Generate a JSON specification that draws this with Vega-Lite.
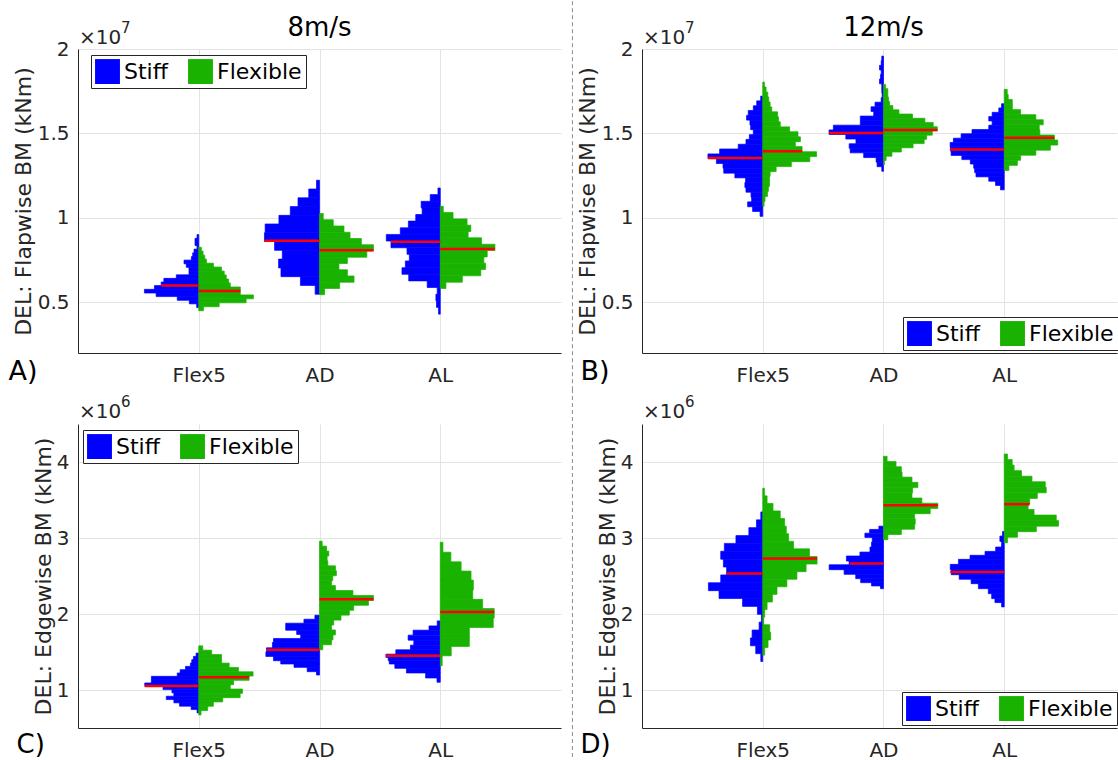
{
"$schema":"https://vega.github.io/schema/vega-lite/v6.json",
"padding":{"left":8,"top":0,"right":0,"bottom":0},
"bounds":"flush",
"columns":2,
"spacing":{"row":71,"column":81},
"resolve":{"scale":{"x":"independent","y":"independent"},"legend":{"color":"independent"}},
"config":{
 "font":"DejaVu Sans",
 "view":{"stroke":null},
 "axis":{"labelFont":"DejaVu Sans","labelFontSize":20,"labelColor":"#262626","titleFont":"DejaVu Sans","titleFontSize":22,"titleFontWeight":"normal","titleColor":"#262626","domainColor":"#262626","domainWidth":1,"gridColor":"#e3e3e3","gridWidth":1,"ticks":false},
 "legend":{"labelFont":"DejaVu Sans","labelFontSize":22,"labelColor":"#000000","symbolType":"square","symbolSize":620,"symbolStrokeWidth":0,"strokeColor":"#262626","fillColor":"#ffffff","padding":4,"columnPadding":20,"labelOffset":4,"direction":"horizontal","labelLimit":300}
},
"datasets":{
"hist":[
{"p":"A","c":1,"s":"Stiff","y0":0.879,"y1":0.901,"w":0.014},
{"p":"A","c":1,"s":"Stiff","y0":0.858,"y1":0.879,"w":0.031},
{"p":"A","c":1,"s":"Stiff","y0":0.836,"y1":0.858,"w":0.031},
{"p":"A","c":1,"s":"Stiff","y0":0.815,"y1":0.836,"w":0.014},
{"p":"A","c":1,"s":"Stiff","y0":0.793,"y1":0.815,"w":0.039},
{"p":"A","c":1,"s":"Stiff","y0":0.771,"y1":0.793,"w":0.05},
{"p":"A","c":1,"s":"Stiff","y0":0.75,"y1":0.771,"w":0.061},
{"p":"A","c":1,"s":"Stiff","y0":0.728,"y1":0.75,"w":0.122},
{"p":"A","c":1,"s":"Stiff","y0":0.707,"y1":0.728,"w":0.103},
{"p":"A","c":1,"s":"Stiff","y0":0.685,"y1":0.707,"w":0.081},
{"p":"A","c":1,"s":"Stiff","y0":0.663,"y1":0.685,"w":0.081},
{"p":"A","c":1,"s":"Stiff","y0":0.642,"y1":0.663,"w":0.186},
{"p":"A","c":1,"s":"Stiff","y0":0.62,"y1":0.642,"w":0.289},
{"p":"A","c":1,"s":"Stiff","y0":0.599,"y1":0.62,"w":0.311},
{"p":"A","c":1,"s":"Stiff","y0":0.577,"y1":0.599,"w":0.367},
{"p":"A","c":1,"s":"Stiff","y0":0.555,"y1":0.577,"w":0.45},
{"p":"A","c":1,"s":"Stiff","y0":0.534,"y1":0.555,"w":0.353},
{"p":"A","c":1,"s":"Stiff","y0":0.512,"y1":0.534,"w":0.178},
{"p":"A","c":1,"s":"Stiff","y0":0.491,"y1":0.512,"w":0.078},
{"p":"A","c":1,"s":"Stiff","y0":0.469,"y1":0.491,"w":0.017},
{"p":"A","c":1,"s":"Flexible","y0":0.803,"y1":0.826,"w":0.022},
{"p":"A","c":1,"s":"Flexible","y0":0.779,"y1":0.803,"w":0.036},
{"p":"A","c":1,"s":"Flexible","y0":0.756,"y1":0.779,"w":0.05},
{"p":"A","c":1,"s":"Flexible","y0":0.732,"y1":0.756,"w":0.064},
{"p":"A","c":1,"s":"Flexible","y0":0.709,"y1":0.732,"w":0.122},
{"p":"A","c":1,"s":"Flexible","y0":0.685,"y1":0.709,"w":0.189},
{"p":"A","c":1,"s":"Flexible","y0":0.662,"y1":0.685,"w":0.211},
{"p":"A","c":1,"s":"Flexible","y0":0.638,"y1":0.662,"w":0.228},
{"p":"A","c":1,"s":"Flexible","y0":0.615,"y1":0.638,"w":0.247},
{"p":"A","c":1,"s":"Flexible","y0":0.591,"y1":0.615,"w":0.261},
{"p":"A","c":1,"s":"Flexible","y0":0.568,"y1":0.591,"w":0.344},
{"p":"A","c":1,"s":"Flexible","y0":0.544,"y1":0.568,"w":0.344},
{"p":"A","c":1,"s":"Flexible","y0":0.521,"y1":0.544,"w":0.453},
{"p":"A","c":1,"s":"Flexible","y0":0.497,"y1":0.521,"w":0.392},
{"p":"A","c":1,"s":"Flexible","y0":0.474,"y1":0.497,"w":0.169},
{"p":"A","c":1,"s":"Flexible","y0":0.45,"y1":0.474,"w":0.039},
{"p":"A","c":2,"s":"Stiff","y0":1.171,"y1":1.223,"w":0.025},
{"p":"A","c":2,"s":"Stiff","y0":1.119,"y1":1.171,"w":0.089},
{"p":"A","c":2,"s":"Stiff","y0":1.067,"y1":1.119,"w":0.178},
{"p":"A","c":2,"s":"Stiff","y0":1.015,"y1":1.067,"w":0.242},
{"p":"A","c":2,"s":"Stiff","y0":0.964,"y1":1.015,"w":0.336},
{"p":"A","c":2,"s":"Stiff","y0":0.912,"y1":0.964,"w":0.45},
{"p":"A","c":2,"s":"Stiff","y0":0.86,"y1":0.912,"w":0.456},
{"p":"A","c":2,"s":"Stiff","y0":0.808,"y1":0.86,"w":0.372},
{"p":"A","c":2,"s":"Stiff","y0":0.756,"y1":0.808,"w":0.308},
{"p":"A","c":2,"s":"Stiff","y0":0.704,"y1":0.756,"w":0.339},
{"p":"A","c":2,"s":"Stiff","y0":0.652,"y1":0.704,"w":0.319},
{"p":"A","c":2,"s":"Stiff","y0":0.6,"y1":0.652,"w":0.158},
{"p":"A","c":2,"s":"Stiff","y0":0.548,"y1":0.6,"w":0.036},
{"p":"A","c":2,"s":"Flexible","y0":0.989,"y1":1.026,"w":0.031},
{"p":"A","c":2,"s":"Flexible","y0":0.952,"y1":0.989,"w":0.114},
{"p":"A","c":2,"s":"Flexible","y0":0.915,"y1":0.952,"w":0.203},
{"p":"A","c":2,"s":"Flexible","y0":0.878,"y1":0.915,"w":0.253},
{"p":"A","c":2,"s":"Flexible","y0":0.841,"y1":0.878,"w":0.347},
{"p":"A","c":2,"s":"Flexible","y0":0.804,"y1":0.841,"w":0.447},
{"p":"A","c":2,"s":"Flexible","y0":0.767,"y1":0.804,"w":0.392},
{"p":"A","c":2,"s":"Flexible","y0":0.73,"y1":0.767,"w":0.231},
{"p":"A","c":2,"s":"Flexible","y0":0.693,"y1":0.73,"w":0.161},
{"p":"A","c":2,"s":"Flexible","y0":0.656,"y1":0.693,"w":0.231},
{"p":"A","c":2,"s":"Flexible","y0":0.619,"y1":0.656,"w":0.286},
{"p":"A","c":2,"s":"Flexible","y0":0.582,"y1":0.619,"w":0.167},
{"p":"A","c":2,"s":"Flexible","y0":0.545,"y1":0.582,"w":0.042},
{"p":"A","c":3,"s":"Stiff","y0":1.138,"y1":1.177,"w":0.019},
{"p":"A","c":3,"s":"Stiff","y0":1.098,"y1":1.138,"w":0.083},
{"p":"A","c":3,"s":"Stiff","y0":1.059,"y1":1.098,"w":0.158},
{"p":"A","c":3,"s":"Stiff","y0":1.02,"y1":1.059,"w":0.15},
{"p":"A","c":3,"s":"Stiff","y0":0.981,"y1":1.02,"w":0.203},
{"p":"A","c":3,"s":"Stiff","y0":0.941,"y1":0.981,"w":0.264},
{"p":"A","c":3,"s":"Stiff","y0":0.902,"y1":0.941,"w":0.331},
{"p":"A","c":3,"s":"Stiff","y0":0.863,"y1":0.902,"w":0.447},
{"p":"A","c":3,"s":"Stiff","y0":0.823,"y1":0.863,"w":0.408},
{"p":"A","c":3,"s":"Stiff","y0":0.784,"y1":0.823,"w":0.275},
{"p":"A","c":3,"s":"Stiff","y0":0.745,"y1":0.784,"w":0.256},
{"p":"A","c":3,"s":"Stiff","y0":0.705,"y1":0.745,"w":0.289},
{"p":"A","c":3,"s":"Stiff","y0":0.666,"y1":0.705,"w":0.317},
{"p":"A","c":3,"s":"Stiff","y0":0.627,"y1":0.666,"w":0.261},
{"p":"A","c":3,"s":"Stiff","y0":0.588,"y1":0.627,"w":0.108},
{"p":"A","c":3,"s":"Stiff","y0":0.548,"y1":0.588,"w":0.025},
{"p":"A","c":3,"s":"Stiff","y0":0.509,"y1":0.548,"w":0.036},
{"p":"A","c":3,"s":"Stiff","y0":0.47,"y1":0.509,"w":0.031},
{"p":"A","c":3,"s":"Stiff","y0":0.43,"y1":0.47,"w":0.014},
{"p":"A","c":3,"s":"Flexible","y0":1.032,"y1":1.069,"w":0.025},
{"p":"A","c":3,"s":"Flexible","y0":0.994,"y1":1.032,"w":0.106},
{"p":"A","c":3,"s":"Flexible","y0":0.957,"y1":0.994,"w":0.222},
{"p":"A","c":3,"s":"Flexible","y0":0.919,"y1":0.957,"w":0.253},
{"p":"A","c":3,"s":"Flexible","y0":0.882,"y1":0.919,"w":0.231},
{"p":"A","c":3,"s":"Flexible","y0":0.844,"y1":0.882,"w":0.342},
{"p":"A","c":3,"s":"Flexible","y0":0.807,"y1":0.844,"w":0.453},
{"p":"A","c":3,"s":"Flexible","y0":0.769,"y1":0.807,"w":0.389},
{"p":"A","c":3,"s":"Flexible","y0":0.732,"y1":0.769,"w":0.361},
{"p":"A","c":3,"s":"Flexible","y0":0.694,"y1":0.732,"w":0.375},
{"p":"A","c":3,"s":"Flexible","y0":0.657,"y1":0.694,"w":0.336},
{"p":"A","c":3,"s":"Flexible","y0":0.619,"y1":0.657,"w":0.183},
{"p":"A","c":3,"s":"Flexible","y0":0.582,"y1":0.619,"w":0.047},
{"p":"B","c":1,"s":"Stiff","y0":1.693,"y1":1.721,"w":0.017},
{"p":"B","c":1,"s":"Stiff","y0":1.664,"y1":1.693,"w":0.05},
{"p":"B","c":1,"s":"Stiff","y0":1.636,"y1":1.664,"w":0.078},
{"p":"B","c":1,"s":"Stiff","y0":1.607,"y1":1.636,"w":0.12},
{"p":"B","c":1,"s":"Stiff","y0":1.579,"y1":1.607,"w":0.134},
{"p":"B","c":1,"s":"Stiff","y0":1.55,"y1":1.579,"w":0.106},
{"p":"B","c":1,"s":"Stiff","y0":1.522,"y1":1.55,"w":0.1},
{"p":"B","c":1,"s":"Stiff","y0":1.493,"y1":1.522,"w":0.078},
{"p":"B","c":1,"s":"Stiff","y0":1.465,"y1":1.493,"w":0.111},
{"p":"B","c":1,"s":"Stiff","y0":1.436,"y1":1.465,"w":0.139},
{"p":"B","c":1,"s":"Stiff","y0":1.408,"y1":1.436,"w":0.203},
{"p":"B","c":1,"s":"Stiff","y0":1.379,"y1":1.408,"w":0.357},
{"p":"B","c":1,"s":"Stiff","y0":1.351,"y1":1.379,"w":0.454},
{"p":"B","c":1,"s":"Stiff","y0":1.322,"y1":1.351,"w":0.384},
{"p":"B","c":1,"s":"Stiff","y0":1.294,"y1":1.322,"w":0.329},
{"p":"B","c":1,"s":"Stiff","y0":1.265,"y1":1.294,"w":0.323},
{"p":"B","c":1,"s":"Stiff","y0":1.237,"y1":1.265,"w":0.231},
{"p":"B","c":1,"s":"Stiff","y0":1.209,"y1":1.237,"w":0.142},
{"p":"B","c":1,"s":"Stiff","y0":1.18,"y1":1.209,"w":0.148},
{"p":"B","c":1,"s":"Stiff","y0":1.152,"y1":1.18,"w":0.139},
{"p":"B","c":1,"s":"Stiff","y0":1.123,"y1":1.152,"w":0.097},
{"p":"B","c":1,"s":"Stiff","y0":1.095,"y1":1.123,"w":0.092},
{"p":"B","c":1,"s":"Stiff","y0":1.066,"y1":1.095,"w":0.125},
{"p":"B","c":1,"s":"Stiff","y0":1.038,"y1":1.066,"w":0.084},
{"p":"B","c":1,"s":"Stiff","y0":1.009,"y1":1.038,"w":0.022},
{"p":"B","c":1,"s":"Flexible","y0":1.775,"y1":1.804,"w":0.014},
{"p":"B","c":1,"s":"Flexible","y0":1.745,"y1":1.775,"w":0.028},
{"p":"B","c":1,"s":"Flexible","y0":1.716,"y1":1.745,"w":0.042},
{"p":"B","c":1,"s":"Flexible","y0":1.686,"y1":1.716,"w":0.05},
{"p":"B","c":1,"s":"Flexible","y0":1.657,"y1":1.686,"w":0.061},
{"p":"B","c":1,"s":"Flexible","y0":1.628,"y1":1.657,"w":0.075},
{"p":"B","c":1,"s":"Flexible","y0":1.598,"y1":1.628,"w":0.123},
{"p":"B","c":1,"s":"Flexible","y0":1.569,"y1":1.598,"w":0.131},
{"p":"B","c":1,"s":"Flexible","y0":1.539,"y1":1.569,"w":0.145},
{"p":"B","c":1,"s":"Flexible","y0":1.51,"y1":1.539,"w":0.223},
{"p":"B","c":1,"s":"Flexible","y0":1.48,"y1":1.51,"w":0.292},
{"p":"B","c":1,"s":"Flexible","y0":1.451,"y1":1.48,"w":0.312},
{"p":"B","c":1,"s":"Flexible","y0":1.422,"y1":1.451,"w":0.27},
{"p":"B","c":1,"s":"Flexible","y0":1.392,"y1":1.422,"w":0.326},
{"p":"B","c":1,"s":"Flexible","y0":1.363,"y1":1.392,"w":0.446},
{"p":"B","c":1,"s":"Flexible","y0":1.333,"y1":1.363,"w":0.39},
{"p":"B","c":1,"s":"Flexible","y0":1.304,"y1":1.333,"w":0.237},
{"p":"B","c":1,"s":"Flexible","y0":1.274,"y1":1.304,"w":0.111},
{"p":"B","c":1,"s":"Flexible","y0":1.245,"y1":1.274,"w":0.061},
{"p":"B","c":1,"s":"Flexible","y0":1.216,"y1":1.245,"w":0.056},
{"p":"B","c":1,"s":"Flexible","y0":1.186,"y1":1.216,"w":0.056},
{"p":"B","c":1,"s":"Flexible","y0":1.157,"y1":1.186,"w":0.047},
{"p":"B","c":1,"s":"Flexible","y0":1.127,"y1":1.157,"w":0.039},
{"p":"B","c":1,"s":"Flexible","y0":1.098,"y1":1.127,"w":0.019},
{"p":"B","c":1,"s":"Flexible","y0":1.069,"y1":1.098,"w":0.011},
{"p":"B","c":2,"s":"Stiff","y0":1.931,"y1":1.958,"w":0.014},
{"p":"B","c":2,"s":"Stiff","y0":1.903,"y1":1.931,"w":0.019},
{"p":"B","c":2,"s":"Stiff","y0":1.876,"y1":1.903,"w":0.033},
{"p":"B","c":2,"s":"Stiff","y0":1.849,"y1":1.876,"w":0.019},
{"p":"B","c":2,"s":"Stiff","y0":1.822,"y1":1.849,"w":0.025},
{"p":"B","c":2,"s":"Stiff","y0":1.794,"y1":1.822,"w":0.033},
{"p":"B","c":2,"s":"Stiff","y0":1.767,"y1":1.794,"w":0.014},
{"p":"B","c":2,"s":"Stiff","y0":1.74,"y1":1.767,"w":0.014},
{"p":"B","c":2,"s":"Stiff","y0":1.712,"y1":1.74,"w":0.011},
{"p":"B","c":2,"s":"Stiff","y0":1.685,"y1":1.712,"w":0.019},
{"p":"B","c":2,"s":"Stiff","y0":1.658,"y1":1.685,"w":0.07},
{"p":"B","c":2,"s":"Stiff","y0":1.63,"y1":1.658,"w":0.103},
{"p":"B","c":2,"s":"Stiff","y0":1.603,"y1":1.63,"w":0.081},
{"p":"B","c":2,"s":"Stiff","y0":1.576,"y1":1.603,"w":0.192},
{"p":"B","c":2,"s":"Stiff","y0":1.549,"y1":1.576,"w":0.192},
{"p":"B","c":2,"s":"Stiff","y0":1.521,"y1":1.549,"w":0.415},
{"p":"B","c":2,"s":"Stiff","y0":1.494,"y1":1.521,"w":0.451},
{"p":"B","c":2,"s":"Stiff","y0":1.467,"y1":1.494,"w":0.312},
{"p":"B","c":2,"s":"Stiff","y0":1.439,"y1":1.467,"w":0.228},
{"p":"B","c":2,"s":"Stiff","y0":1.412,"y1":1.439,"w":0.284},
{"p":"B","c":2,"s":"Stiff","y0":1.385,"y1":1.412,"w":0.276},
{"p":"B","c":2,"s":"Stiff","y0":1.357,"y1":1.385,"w":0.164},
{"p":"B","c":2,"s":"Stiff","y0":1.33,"y1":1.357,"w":0.061},
{"p":"B","c":2,"s":"Stiff","y0":1.303,"y1":1.33,"w":0.053},
{"p":"B","c":2,"s":"Stiff","y0":1.276,"y1":1.303,"w":0.014},
{"p":"B","c":2,"s":"Flexible","y0":1.765,"y1":1.79,"w":0.017},
{"p":"B","c":2,"s":"Flexible","y0":1.74,"y1":1.765,"w":0.036},
{"p":"B","c":2,"s":"Flexible","y0":1.715,"y1":1.74,"w":0.036},
{"p":"B","c":2,"s":"Flexible","y0":1.69,"y1":1.715,"w":0.042},
{"p":"B","c":2,"s":"Flexible","y0":1.665,"y1":1.69,"w":0.05},
{"p":"B","c":2,"s":"Flexible","y0":1.64,"y1":1.665,"w":0.078},
{"p":"B","c":2,"s":"Flexible","y0":1.615,"y1":1.64,"w":0.128},
{"p":"B","c":2,"s":"Flexible","y0":1.59,"y1":1.615,"w":0.24},
{"p":"B","c":2,"s":"Flexible","y0":1.565,"y1":1.59,"w":0.343},
{"p":"B","c":2,"s":"Flexible","y0":1.54,"y1":1.565,"w":0.412},
{"p":"B","c":2,"s":"Flexible","y0":1.515,"y1":1.54,"w":0.446},
{"p":"B","c":2,"s":"Flexible","y0":1.49,"y1":1.515,"w":0.404},
{"p":"B","c":2,"s":"Flexible","y0":1.465,"y1":1.49,"w":0.357},
{"p":"B","c":2,"s":"Flexible","y0":1.44,"y1":1.465,"w":0.337},
{"p":"B","c":2,"s":"Flexible","y0":1.415,"y1":1.44,"w":0.245},
{"p":"B","c":2,"s":"Flexible","y0":1.39,"y1":1.415,"w":0.148},
{"p":"B","c":2,"s":"Flexible","y0":1.365,"y1":1.39,"w":0.07},
{"p":"B","c":2,"s":"Flexible","y0":1.34,"y1":1.365,"w":0.022},
{"p":"B","c":2,"s":"Flexible","y0":1.315,"y1":1.34,"w":0.008},
{"p":"B","c":3,"s":"Stiff","y0":1.651,"y1":1.676,"w":0.022},
{"p":"B","c":3,"s":"Stiff","y0":1.625,"y1":1.651,"w":0.045},
{"p":"B","c":3,"s":"Stiff","y0":1.6,"y1":1.625,"w":0.1},
{"p":"B","c":3,"s":"Stiff","y0":1.574,"y1":1.6,"w":0.128},
{"p":"B","c":3,"s":"Stiff","y0":1.549,"y1":1.574,"w":0.1},
{"p":"B","c":3,"s":"Stiff","y0":1.523,"y1":1.549,"w":0.128},
{"p":"B","c":3,"s":"Stiff","y0":1.498,"y1":1.523,"w":0.267},
{"p":"B","c":3,"s":"Stiff","y0":1.472,"y1":1.498,"w":0.357},
{"p":"B","c":3,"s":"Stiff","y0":1.447,"y1":1.472,"w":0.421},
{"p":"B","c":3,"s":"Stiff","y0":1.421,"y1":1.447,"w":0.448},
{"p":"B","c":3,"s":"Stiff","y0":1.396,"y1":1.421,"w":0.446},
{"p":"B","c":3,"s":"Stiff","y0":1.37,"y1":1.396,"w":0.44},
{"p":"B","c":3,"s":"Stiff","y0":1.345,"y1":1.37,"w":0.351},
{"p":"B","c":3,"s":"Stiff","y0":1.319,"y1":1.345,"w":0.281},
{"p":"B","c":3,"s":"Stiff","y0":1.294,"y1":1.319,"w":0.253},
{"p":"B","c":3,"s":"Stiff","y0":1.268,"y1":1.294,"w":0.245},
{"p":"B","c":3,"s":"Stiff","y0":1.243,"y1":1.268,"w":0.234},
{"p":"B","c":3,"s":"Stiff","y0":1.217,"y1":1.243,"w":0.128},
{"p":"B","c":3,"s":"Stiff","y0":1.192,"y1":1.217,"w":0.072},
{"p":"B","c":3,"s":"Stiff","y0":1.166,"y1":1.192,"w":0.031},
{"p":"B","c":3,"s":"Flexible","y0":1.731,"y1":1.761,"w":0.025},
{"p":"B","c":3,"s":"Flexible","y0":1.701,"y1":1.731,"w":0.033},
{"p":"B","c":3,"s":"Flexible","y0":1.671,"y1":1.701,"w":0.067},
{"p":"B","c":3,"s":"Flexible","y0":1.641,"y1":1.671,"w":0.067},
{"p":"B","c":3,"s":"Flexible","y0":1.611,"y1":1.641,"w":0.136},
{"p":"B","c":3,"s":"Flexible","y0":1.581,"y1":1.611,"w":0.262},
{"p":"B","c":3,"s":"Flexible","y0":1.551,"y1":1.581,"w":0.323},
{"p":"B","c":3,"s":"Flexible","y0":1.521,"y1":1.551,"w":0.29},
{"p":"B","c":3,"s":"Flexible","y0":1.491,"y1":1.521,"w":0.295},
{"p":"B","c":3,"s":"Flexible","y0":1.461,"y1":1.491,"w":0.415},
{"p":"B","c":3,"s":"Flexible","y0":1.431,"y1":1.461,"w":0.443},
{"p":"B","c":3,"s":"Flexible","y0":1.401,"y1":1.431,"w":0.382},
{"p":"B","c":3,"s":"Flexible","y0":1.371,"y1":1.401,"w":0.262},
{"p":"B","c":3,"s":"Flexible","y0":1.341,"y1":1.371,"w":0.136},
{"p":"B","c":3,"s":"Flexible","y0":1.311,"y1":1.341,"w":0.109},
{"p":"B","c":3,"s":"Flexible","y0":1.281,"y1":1.311,"w":0.039},
{"p":"C","c":1,"s":"Stiff","y0":1.442,"y1":1.486,"w":0.022},
{"p":"C","c":1,"s":"Stiff","y0":1.399,"y1":1.442,"w":0.044},
{"p":"C","c":1,"s":"Stiff","y0":1.355,"y1":1.399,"w":0.058},
{"p":"C","c":1,"s":"Stiff","y0":1.311,"y1":1.355,"w":0.069},
{"p":"C","c":1,"s":"Stiff","y0":1.268,"y1":1.311,"w":0.11},
{"p":"C","c":1,"s":"Stiff","y0":1.224,"y1":1.268,"w":0.154},
{"p":"C","c":1,"s":"Stiff","y0":1.18,"y1":1.224,"w":0.178},
{"p":"C","c":1,"s":"Stiff","y0":1.136,"y1":1.18,"w":0.392},
{"p":"C","c":1,"s":"Stiff","y0":1.093,"y1":1.136,"w":0.392},
{"p":"C","c":1,"s":"Stiff","y0":1.049,"y1":1.093,"w":0.447},
{"p":"C","c":1,"s":"Stiff","y0":1.005,"y1":1.049,"w":0.296},
{"p":"C","c":1,"s":"Stiff","y0":0.962,"y1":1.005,"w":0.222},
{"p":"C","c":1,"s":"Stiff","y0":0.918,"y1":0.962,"w":0.206},
{"p":"C","c":1,"s":"Stiff","y0":0.874,"y1":0.918,"w":0.269},
{"p":"C","c":1,"s":"Stiff","y0":0.831,"y1":0.874,"w":0.206},
{"p":"C","c":1,"s":"Stiff","y0":0.787,"y1":0.831,"w":0.159},
{"p":"C","c":1,"s":"Stiff","y0":0.743,"y1":0.787,"w":0.063},
{"p":"C","c":1,"s":"Stiff","y0":0.699,"y1":0.743,"w":0.014},
{"p":"C","c":1,"s":"Flexible","y0":1.524,"y1":1.581,"w":0.033},
{"p":"C","c":1,"s":"Flexible","y0":1.467,"y1":1.524,"w":0.107},
{"p":"C","c":1,"s":"Flexible","y0":1.411,"y1":1.467,"w":0.189},
{"p":"C","c":1,"s":"Flexible","y0":1.354,"y1":1.411,"w":0.189},
{"p":"C","c":1,"s":"Flexible","y0":1.297,"y1":1.354,"w":0.252},
{"p":"C","c":1,"s":"Flexible","y0":1.24,"y1":1.297,"w":0.329},
{"p":"C","c":1,"s":"Flexible","y0":1.183,"y1":1.24,"w":0.45},
{"p":"C","c":1,"s":"Flexible","y0":1.127,"y1":1.183,"w":0.417},
{"p":"C","c":1,"s":"Flexible","y0":1.07,"y1":1.127,"w":0.288},
{"p":"C","c":1,"s":"Flexible","y0":1.013,"y1":1.07,"w":0.261},
{"p":"C","c":1,"s":"Flexible","y0":0.956,"y1":1.013,"w":0.362},
{"p":"C","c":1,"s":"Flexible","y0":0.899,"y1":0.956,"w":0.343},
{"p":"C","c":1,"s":"Flexible","y0":0.843,"y1":0.899,"w":0.198},
{"p":"C","c":1,"s":"Flexible","y0":0.786,"y1":0.843,"w":0.121},
{"p":"C","c":1,"s":"Flexible","y0":0.729,"y1":0.786,"w":0.074},
{"p":"C","c":1,"s":"Flexible","y0":0.672,"y1":0.729,"w":0.019},
{"p":"C","c":2,"s":"Stiff","y0":1.931,"y1":1.984,"w":0.038},
{"p":"C","c":2,"s":"Stiff","y0":1.879,"y1":1.931,"w":0.129},
{"p":"C","c":2,"s":"Stiff","y0":1.787,"y1":1.879,"w":0.28},
{"p":"C","c":2,"s":"Stiff","y0":1.731,"y1":1.787,"w":0.189},
{"p":"C","c":2,"s":"Stiff","y0":1.678,"y1":1.731,"w":0.156},
{"p":"C","c":2,"s":"Stiff","y0":1.626,"y1":1.678,"w":0.381},
{"p":"C","c":2,"s":"Stiff","y0":1.555,"y1":1.626,"w":0.39},
{"p":"C","c":2,"s":"Stiff","y0":1.503,"y1":1.555,"w":0.439},
{"p":"C","c":2,"s":"Stiff","y0":1.442,"y1":1.503,"w":0.444},
{"p":"C","c":2,"s":"Stiff","y0":1.385,"y1":1.442,"w":0.381},
{"p":"C","c":2,"s":"Stiff","y0":1.342,"y1":1.385,"w":0.321},
{"p":"C","c":2,"s":"Stiff","y0":1.298,"y1":1.342,"w":0.211},
{"p":"C","c":2,"s":"Stiff","y0":1.241,"y1":1.298,"w":0.102},
{"p":"C","c":2,"s":"Stiff","y0":1.197,"y1":1.241,"w":0.025},
{"p":"C","c":2,"s":"Flexible","y0":2.893,"y1":2.958,"w":0.022},
{"p":"C","c":2,"s":"Flexible","y0":2.828,"y1":2.893,"w":0.058},
{"p":"C","c":2,"s":"Flexible","y0":2.763,"y1":2.828,"w":0.077},
{"p":"C","c":2,"s":"Flexible","y0":2.698,"y1":2.763,"w":0.063},
{"p":"C","c":2,"s":"Flexible","y0":2.634,"y1":2.698,"w":0.069},
{"p":"C","c":2,"s":"Flexible","y0":2.569,"y1":2.634,"w":0.132},
{"p":"C","c":2,"s":"Flexible","y0":2.504,"y1":2.569,"w":0.14},
{"p":"C","c":2,"s":"Flexible","y0":2.439,"y1":2.504,"w":0.11},
{"p":"C","c":2,"s":"Flexible","y0":2.374,"y1":2.439,"w":0.099},
{"p":"C","c":2,"s":"Flexible","y0":2.309,"y1":2.374,"w":0.132},
{"p":"C","c":2,"s":"Flexible","y0":2.244,"y1":2.309,"w":0.277},
{"p":"C","c":2,"s":"Flexible","y0":2.179,"y1":2.244,"w":0.447},
{"p":"C","c":2,"s":"Flexible","y0":2.114,"y1":2.179,"w":0.406},
{"p":"C","c":2,"s":"Flexible","y0":2.049,"y1":2.114,"w":0.283},
{"p":"C","c":2,"s":"Flexible","y0":1.985,"y1":2.049,"w":0.247},
{"p":"C","c":2,"s":"Flexible","y0":1.92,"y1":1.985,"w":0.178},
{"p":"C","c":2,"s":"Flexible","y0":1.855,"y1":1.92,"w":0.118},
{"p":"C","c":2,"s":"Flexible","y0":1.79,"y1":1.855,"w":0.099},
{"p":"C","c":2,"s":"Flexible","y0":1.725,"y1":1.79,"w":0.132},
{"p":"C","c":2,"s":"Flexible","y0":1.66,"y1":1.725,"w":0.112},
{"p":"C","c":2,"s":"Flexible","y0":1.595,"y1":1.66,"w":0.099},
{"p":"C","c":2,"s":"Flexible","y0":1.53,"y1":1.595,"w":0.027},
{"p":"C","c":3,"s":"Stiff","y0":1.843,"y1":1.909,"w":0.025},
{"p":"C","c":3,"s":"Stiff","y0":1.787,"y1":1.843,"w":0.093},
{"p":"C","c":3,"s":"Stiff","y0":1.722,"y1":1.787,"w":0.225},
{"p":"C","c":3,"s":"Stiff","y0":1.656,"y1":1.722,"w":0.266},
{"p":"C","c":3,"s":"Stiff","y0":1.59,"y1":1.656,"w":0.219},
{"p":"C","c":3,"s":"Stiff","y0":1.529,"y1":1.59,"w":0.247},
{"p":"C","c":3,"s":"Stiff","y0":1.472,"y1":1.529,"w":0.368},
{"p":"C","c":3,"s":"Stiff","y0":1.429,"y1":1.472,"w":0.45},
{"p":"C","c":3,"s":"Stiff","y0":1.385,"y1":1.429,"w":0.431},
{"p":"C","c":3,"s":"Stiff","y0":1.342,"y1":1.385,"w":0.422},
{"p":"C","c":3,"s":"Stiff","y0":1.285,"y1":1.342,"w":0.376},
{"p":"C","c":3,"s":"Stiff","y0":1.224,"y1":1.285,"w":0.28},
{"p":"C","c":3,"s":"Stiff","y0":1.158,"y1":1.224,"w":0.121},
{"p":"C","c":3,"s":"Stiff","y0":1.102,"y1":1.158,"w":0.027},
{"p":"C","c":3,"s":"Flexible","y0":2.813,"y1":2.944,"w":0.022},
{"p":"C","c":3,"s":"Flexible","y0":2.687,"y1":2.813,"w":0.088},
{"p":"C","c":3,"s":"Flexible","y0":2.565,"y1":2.687,"w":0.173},
{"p":"C","c":3,"s":"Flexible","y0":2.446,"y1":2.565,"w":0.255},
{"p":"C","c":3,"s":"Flexible","y0":2.315,"y1":2.446,"w":0.274},
{"p":"C","c":3,"s":"Flexible","y0":2.193,"y1":2.315,"w":0.269},
{"p":"C","c":3,"s":"Flexible","y0":2.071,"y1":2.193,"w":0.351},
{"p":"C","c":3,"s":"Flexible","y0":1.949,"y1":2.071,"w":0.447},
{"p":"C","c":3,"s":"Flexible","y0":1.822,"y1":1.949,"w":0.439},
{"p":"C","c":3,"s":"Flexible","y0":1.691,"y1":1.822,"w":0.241},
{"p":"C","c":3,"s":"Flexible","y0":1.573,"y1":1.691,"w":0.241},
{"p":"C","c":3,"s":"Flexible","y0":1.45,"y1":1.573,"w":0.091},
{"p":"C","c":3,"s":"Flexible","y0":1.319,"y1":1.45,"w":0.016},
{"p":"D","c":1,"s":"Stiff","y0":3.239,"y1":3.343,"w":0.016},
{"p":"D","c":1,"s":"Stiff","y0":3.136,"y1":3.239,"w":0.052},
{"p":"D","c":1,"s":"Stiff","y0":3.032,"y1":3.136,"w":0.115},
{"p":"D","c":1,"s":"Stiff","y0":2.929,"y1":3.032,"w":0.222},
{"p":"D","c":1,"s":"Stiff","y0":2.825,"y1":2.929,"w":0.318},
{"p":"D","c":1,"s":"Stiff","y0":2.721,"y1":2.825,"w":0.348},
{"p":"D","c":1,"s":"Stiff","y0":2.618,"y1":2.721,"w":0.326},
{"p":"D","c":1,"s":"Stiff","y0":2.514,"y1":2.618,"w":0.299},
{"p":"D","c":1,"s":"Stiff","y0":2.411,"y1":2.514,"w":0.348},
{"p":"D","c":1,"s":"Stiff","y0":2.307,"y1":2.411,"w":0.45},
{"p":"D","c":1,"s":"Stiff","y0":2.203,"y1":2.307,"w":0.362},
{"p":"D","c":1,"s":"Stiff","y0":2.1,"y1":2.203,"w":0.167},
{"p":"D","c":1,"s":"Stiff","y0":1.996,"y1":2.1,"w":0.044},
{"p":"D","c":1,"s":"Stiff","y0":1.893,"y1":1.996,"w":0.011},
{"p":"D","c":1,"s":"Stiff","y0":1.789,"y1":1.893,"w":0.03},
{"p":"D","c":1,"s":"Stiff","y0":1.685,"y1":1.789,"w":0.088},
{"p":"D","c":1,"s":"Stiff","y0":1.582,"y1":1.685,"w":0.102},
{"p":"D","c":1,"s":"Stiff","y0":1.478,"y1":1.582,"w":0.058},
{"p":"D","c":1,"s":"Stiff","y0":1.375,"y1":1.478,"w":0.016},
{"p":"D","c":1,"s":"Flexible","y0":3.555,"y1":3.655,"w":0.014},
{"p":"D","c":1,"s":"Flexible","y0":3.455,"y1":3.555,"w":0.036},
{"p":"D","c":1,"s":"Flexible","y0":3.356,"y1":3.455,"w":0.085},
{"p":"D","c":1,"s":"Flexible","y0":3.256,"y1":3.356,"w":0.145},
{"p":"D","c":1,"s":"Flexible","y0":3.156,"y1":3.256,"w":0.181},
{"p":"D","c":1,"s":"Flexible","y0":3.056,"y1":3.156,"w":0.195},
{"p":"D","c":1,"s":"Flexible","y0":2.956,"y1":3.056,"w":0.214},
{"p":"D","c":1,"s":"Flexible","y0":2.857,"y1":2.956,"w":0.255},
{"p":"D","c":1,"s":"Flexible","y0":2.757,"y1":2.857,"w":0.387},
{"p":"D","c":1,"s":"Flexible","y0":2.657,"y1":2.757,"w":0.45},
{"p":"D","c":1,"s":"Flexible","y0":2.557,"y1":2.657,"w":0.359},
{"p":"D","c":1,"s":"Flexible","y0":2.457,"y1":2.557,"w":0.283},
{"p":"D","c":1,"s":"Flexible","y0":2.358,"y1":2.457,"w":0.2},
{"p":"D","c":1,"s":"Flexible","y0":2.258,"y1":2.358,"w":0.118},
{"p":"D","c":1,"s":"Flexible","y0":2.158,"y1":2.258,"w":0.08},
{"p":"D","c":1,"s":"Flexible","y0":2.058,"y1":2.158,"w":0.036},
{"p":"D","c":1,"s":"Flexible","y0":1.958,"y1":2.058,"w":0.016},
{"p":"D","c":1,"s":"Flexible","y0":1.859,"y1":1.958,"w":0.008},
{"p":"D","c":1,"s":"Flexible","y0":1.759,"y1":1.859,"w":0.058},
{"p":"D","c":1,"s":"Flexible","y0":1.659,"y1":1.759,"w":0.066},
{"p":"D","c":1,"s":"Flexible","y0":1.559,"y1":1.659,"w":0.044},
{"p":"D","c":1,"s":"Flexible","y0":1.459,"y1":1.559,"w":0.016},
{"p":"D","c":2,"s":"Stiff","y0":3.113,"y1":3.156,"w":0.038},
{"p":"D","c":2,"s":"Stiff","y0":3.064,"y1":3.113,"w":0.115},
{"p":"D","c":2,"s":"Stiff","y0":3.008,"y1":3.064,"w":0.154},
{"p":"D","c":2,"s":"Stiff","y0":2.946,"y1":3.008,"w":0.093},
{"p":"D","c":2,"s":"Stiff","y0":2.881,"y1":2.946,"w":0.099},
{"p":"D","c":2,"s":"Stiff","y0":2.815,"y1":2.881,"w":0.112},
{"p":"D","c":2,"s":"Stiff","y0":2.763,"y1":2.815,"w":0.195},
{"p":"D","c":2,"s":"Stiff","y0":2.697,"y1":2.763,"w":0.307},
{"p":"D","c":2,"s":"Stiff","y0":2.648,"y1":2.697,"w":0.285},
{"p":"D","c":2,"s":"Stiff","y0":2.583,"y1":2.648,"w":0.45},
{"p":"D","c":2,"s":"Stiff","y0":2.522,"y1":2.583,"w":0.326},
{"p":"D","c":2,"s":"Stiff","y0":2.465,"y1":2.522,"w":0.23},
{"p":"D","c":2,"s":"Stiff","y0":2.412,"y1":2.465,"w":0.189},
{"p":"D","c":2,"s":"Stiff","y0":2.369,"y1":2.412,"w":0.099},
{"p":"D","c":2,"s":"Stiff","y0":2.333,"y1":2.369,"w":0.025},
{"p":"D","c":2,"s":"Flexible","y0":4.006,"y1":4.075,"w":0.03},
{"p":"D","c":2,"s":"Flexible","y0":3.938,"y1":4.006,"w":0.104},
{"p":"D","c":2,"s":"Flexible","y0":3.869,"y1":3.938,"w":0.148},
{"p":"D","c":2,"s":"Flexible","y0":3.801,"y1":3.869,"w":0.154},
{"p":"D","c":2,"s":"Flexible","y0":3.732,"y1":3.801,"w":0.236},
{"p":"D","c":2,"s":"Flexible","y0":3.663,"y1":3.732,"w":0.285},
{"p":"D","c":2,"s":"Flexible","y0":3.595,"y1":3.663,"w":0.241},
{"p":"D","c":2,"s":"Flexible","y0":3.526,"y1":3.595,"w":0.236},
{"p":"D","c":2,"s":"Flexible","y0":3.458,"y1":3.526,"w":0.318},
{"p":"D","c":2,"s":"Flexible","y0":3.389,"y1":3.458,"w":0.45},
{"p":"D","c":2,"s":"Flexible","y0":3.32,"y1":3.389,"w":0.387},
{"p":"D","c":2,"s":"Flexible","y0":3.252,"y1":3.32,"w":0.258},
{"p":"D","c":2,"s":"Flexible","y0":3.183,"y1":3.252,"w":0.263},
{"p":"D","c":2,"s":"Flexible","y0":3.115,"y1":3.183,"w":0.258},
{"p":"D","c":2,"s":"Flexible","y0":3.046,"y1":3.115,"w":0.148},
{"p":"D","c":2,"s":"Flexible","y0":2.977,"y1":3.046,"w":0.036},
{"p":"D","c":3,"s":"Stiff","y0":3.025,"y1":3.086,"w":0.014},
{"p":"D","c":3,"s":"Stiff","y0":2.955,"y1":3.025,"w":0.036},
{"p":"D","c":3,"s":"Stiff","y0":2.881,"y1":2.955,"w":0.022},
{"p":"D","c":3,"s":"Stiff","y0":2.824,"y1":2.881,"w":0.071},
{"p":"D","c":3,"s":"Stiff","y0":2.772,"y1":2.824,"w":0.159},
{"p":"D","c":3,"s":"Stiff","y0":2.719,"y1":2.772,"w":0.283},
{"p":"D","c":3,"s":"Stiff","y0":2.653,"y1":2.719,"w":0.379},
{"p":"D","c":3,"s":"Stiff","y0":2.583,"y1":2.653,"w":0.447},
{"p":"D","c":3,"s":"Stiff","y0":2.517,"y1":2.583,"w":0.439},
{"p":"D","c":3,"s":"Stiff","y0":2.457,"y1":2.517,"w":0.373},
{"p":"D","c":3,"s":"Stiff","y0":2.399,"y1":2.457,"w":0.274},
{"p":"D","c":3,"s":"Stiff","y0":2.333,"y1":2.399,"w":0.214},
{"p":"D","c":3,"s":"Stiff","y0":2.268,"y1":2.333,"w":0.132},
{"p":"D","c":3,"s":"Stiff","y0":2.202,"y1":2.268,"w":0.104},
{"p":"D","c":3,"s":"Stiff","y0":2.15,"y1":2.202,"w":0.077},
{"p":"D","c":3,"s":"Stiff","y0":2.093,"y1":2.15,"w":0.022},
{"p":"D","c":3,"s":"Flexible","y0":4.032,"y1":4.105,"w":0.027},
{"p":"D","c":3,"s":"Flexible","y0":3.959,"y1":4.032,"w":0.066},
{"p":"D","c":3,"s":"Flexible","y0":3.886,"y1":3.959,"w":0.082},
{"p":"D","c":3,"s":"Flexible","y0":3.813,"y1":3.886,"w":0.143},
{"p":"D","c":3,"s":"Flexible","y0":3.74,"y1":3.813,"w":0.23},
{"p":"D","c":3,"s":"Flexible","y0":3.667,"y1":3.74,"w":0.34},
{"p":"D","c":3,"s":"Flexible","y0":3.594,"y1":3.667,"w":0.348},
{"p":"D","c":3,"s":"Flexible","y0":3.521,"y1":3.594,"w":0.274},
{"p":"D","c":3,"s":"Flexible","y0":3.448,"y1":3.521,"w":0.211},
{"p":"D","c":3,"s":"Flexible","y0":3.375,"y1":3.448,"w":0.198},
{"p":"D","c":3,"s":"Flexible","y0":3.302,"y1":3.375,"w":0.247},
{"p":"D","c":3,"s":"Flexible","y0":3.229,"y1":3.302,"w":0.431},
{"p":"D","c":3,"s":"Flexible","y0":3.156,"y1":3.229,"w":0.45},
{"p":"D","c":3,"s":"Flexible","y0":3.083,"y1":3.156,"w":0.266},
{"p":"D","c":3,"s":"Flexible","y0":3.01,"y1":3.083,"w":0.11},
{"p":"D","c":3,"s":"Flexible","y0":2.937,"y1":3.01,"w":0.027}
],
"med":[
{"p":"A","c":1,"s":"Stiff","y":0.6,"w":0.311},
{"p":"A","c":1,"s":"Flexible","y":0.567,"w":0.344},
{"p":"A","c":2,"s":"Stiff","y":0.865,"w":0.456},
{"p":"A","c":2,"s":"Flexible","y":0.808,"w":0.447},
{"p":"A","c":3,"s":"Stiff","y":0.859,"w":0.408},
{"p":"A","c":3,"s":"Flexible","y":0.816,"w":0.453},
{"p":"B","c":1,"s":"Stiff","y":1.355,"w":0.454},
{"p":"B","c":1,"s":"Flexible","y":1.395,"w":0.326},
{"p":"B","c":2,"s":"Stiff","y":1.502,"w":0.451},
{"p":"B","c":2,"s":"Flexible","y":1.521,"w":0.446},
{"p":"B","c":3,"s":"Stiff","y":1.405,"w":0.446},
{"p":"B","c":3,"s":"Flexible","y":1.474,"w":0.415},
{"p":"C","c":1,"s":"Stiff","y":1.053,"w":0.447},
{"p":"C","c":1,"s":"Flexible","y":1.167,"w":0.417},
{"p":"C","c":2,"s":"Stiff","y":1.529,"w":0.439},
{"p":"C","c":2,"s":"Flexible","y":2.193,"w":0.447},
{"p":"C","c":3,"s":"Stiff","y":1.45,"w":0.45},
{"p":"C","c":3,"s":"Flexible","y":2.027,"w":0.447},
{"p":"D","c":1,"s":"Stiff","y":2.534,"w":0.299},
{"p":"D","c":1,"s":"Flexible","y":2.731,"w":0.45},
{"p":"D","c":2,"s":"Stiff","y":2.665,"w":0.28},
{"p":"D","c":2,"s":"Flexible","y":3.432,"w":0.45},
{"p":"D","c":3,"s":"Stiff","y":2.552,"w":0.447},
{"p":"D","c":3,"s":"Flexible","y":3.445,"w":0.211}
]
},
"concat":[
{
 "width":483,"height":304,
 "layer":[
  {"data":{"name":"hist"},
   "transform":[{"filter":"datum.p==='A'"},{"calculate":"datum.s==='Stiff'?datum.c-datum.w:datum.c","as":"lo"},{"calculate":"datum.s==='Stiff'?datum.c:datum.c+datum.w","as":"hi"}],
   "mark":{"type":"rect","strokeWidth":0.7},
   "encoding":{
    "x":{"field":"lo","type":"quantitative","scale":{"domain":[0,4],"nice":false,"zero":false},
         "axis":{"values":[1,2,3],"labelExpr":"datum.value==1?'Flex5':datum.value==2?'AD':'AL'","grid":true,"labelPadding":12,"title":"A)","titleX":-70,"titleY":5,"titleAlign":"left","titleBaseline":"top","titleFontSize":27,"titleAngle":0,"titleColor":"#000000"}},
    "x2":{"field":"hi"},
    "y":{"field":"y0","type":"quantitative","scale":{"domain":[0.2,2],"nice":false,"zero":false},
         "axis":{"values":[0.5,1,1.5,2],"format":"~g","grid":true,"labelPadding":9,"title":"DEL: Flapwise BM (kNm)","titlePadding":2}},
    "y2":{"field":"y1"},
    "color":{"field":"s","type":"nominal","scale":{"domain":["Stiff","Flexible"],"range":["#0000ff","#1ab200"]},
             "legend":{"title":null,"orient":"none","legendX":13,"legendY":6,"direction":"horizontal"}},
    "stroke":{"field":"s","type":"nominal","scale":{"domain":["Stiff","Flexible"],"range":["#0000ff","#1ab200"]},"legend":null}
   }},
  {"data":{"name":"med"},
   "transform":[{"filter":"datum.p==='A'"},{"calculate":"datum.s==='Stiff'?datum.c-datum.w:datum.c","as":"lo"},{"calculate":"datum.s==='Stiff'?datum.c:datum.c+datum.w","as":"hi"}],
   "mark":{"type":"rule","color":"#ff0000","strokeWidth":2.5},
   "encoding":{"x":{"field":"lo","type":"quantitative"},"x2":{"field":"hi"},"y":{"field":"y","type":"quantitative"}}},
  {"data":{"values":[{}]},
   "mark":{"type":"text","align":"left","baseline":"alphabetic","fontSize":20,"dx":1,"dy":-5,"color":"#262626"},
   "encoding":{"x":{"datum":0},"y":{"datum":2},"text":{"value":"×10"}}},
  {"data":{"values":[{}]},
   "mark":{"type":"text","align":"left","baseline":"alphabetic","fontSize":15,"dx":43,"dy":-16,"color":"#262626"},
   "encoding":{"x":{"datum":0},"y":{"datum":2},"text":{"value":"7"}}},
  {"data":{"values":[{}]},
   "mark":{"type":"text","align":"center","baseline":"alphabetic","fontSize":26,"dy":-13,"color":"#000000"},
   "encoding":{"x":{"datum":2},"y":{"datum":2},"text":{"value":"8m/s"}}}
 ]
},
{
 "width":475,"height":304,
 "layer":[
  {"data":{"name":"hist"},
   "transform":[{"filter":"datum.p==='B'"},{"calculate":"datum.s==='Stiff'?datum.c-datum.w:datum.c","as":"lo"},{"calculate":"datum.s==='Stiff'?datum.c:datum.c+datum.w","as":"hi"}],
   "mark":{"type":"rect","strokeWidth":0.7},
   "encoding":{
    "x":{"field":"lo","type":"quantitative","scale":{"domain":[0,3.934],"nice":false,"zero":false},
         "axis":{"values":[1,2,3],"labelExpr":"datum.value==1?'Flex5':datum.value==2?'AD':'AL'","grid":true,"labelPadding":12,"title":"B)","titleX":-62,"titleY":5,"titleAlign":"left","titleBaseline":"top","titleFontSize":27,"titleAngle":0,"titleColor":"#000000"}},
    "x2":{"field":"hi"},
    "y":{"field":"y0","type":"quantitative","scale":{"domain":[0.2,2],"nice":false,"zero":false},
         "axis":{"values":[0.5,1,1.5,2],"format":"~g","grid":true,"labelPadding":9,"title":"DEL: Flapwise BM (kNm)","titlePadding":2}},
    "y2":{"field":"y1"},
    "color":{"field":"s","type":"nominal","scale":{"domain":["Stiff","Flexible"],"range":["#0000ff","#1ab200"]},
             "legend":{"title":null,"orient":"none","legendX":261,"legendY":268,"direction":"horizontal"}},
    "stroke":{"field":"s","type":"nominal","scale":{"domain":["Stiff","Flexible"],"range":["#0000ff","#1ab200"]},"legend":null}
   }},
  {"data":{"name":"med"},
   "transform":[{"filter":"datum.p==='B'"},{"calculate":"datum.s==='Stiff'?datum.c-datum.w:datum.c","as":"lo"},{"calculate":"datum.s==='Stiff'?datum.c:datum.c+datum.w","as":"hi"}],
   "mark":{"type":"rule","color":"#ff0000","strokeWidth":2.5},
   "encoding":{"x":{"field":"lo","type":"quantitative"},"x2":{"field":"hi"},"y":{"field":"y","type":"quantitative"}}},
  {"data":{"values":[{}]},
   "mark":{"type":"text","align":"left","baseline":"alphabetic","fontSize":20,"dx":1,"dy":-5,"color":"#262626"},
   "encoding":{"x":{"datum":0},"y":{"datum":2},"text":{"value":"×10"}}},
  {"data":{"values":[{}]},
   "mark":{"type":"text","align":"left","baseline":"alphabetic","fontSize":15,"dx":43,"dy":-16,"color":"#262626"},
   "encoding":{"x":{"datum":0},"y":{"datum":2},"text":{"value":"7"}}},
  {"data":{"values":[{}]},
   "mark":{"type":"text","align":"center","baseline":"alphabetic","fontSize":26,"dy":-13,"color":"#000000"},
   "encoding":{"x":{"datum":2},"y":{"datum":2},"text":{"value":"12m/s"}}},
  {"data":{"values":[{}]},
   "mark":{"type":"rule","color":"#8c8c8c","strokeDash":[4,3],"strokeWidth":1},
   "encoding":{"x":{"datum":-0.576},"y":{"datum":2.283},"y2":{"datum":-0.013}}}
 ]
},
{
 "width":483,"height":304,
 "layer":[
  {"data":{"name":"hist"},
   "transform":[{"filter":"datum.p==='C'"},{"calculate":"datum.s==='Stiff'?datum.c-datum.w:datum.c","as":"lo"},{"calculate":"datum.s==='Stiff'?datum.c:datum.c+datum.w","as":"hi"}],
   "mark":{"type":"rect","strokeWidth":0.7},
   "encoding":{
    "x":{"field":"lo","type":"quantitative","scale":{"domain":[0,4],"nice":false,"zero":false},
         "axis":{"values":[1,2,3],"labelExpr":"datum.value==1?'Flex5':datum.value==2?'AD':'AL'","grid":true,"labelPadding":12,"title":"C)","titleX":-62,"titleY":3,"titleAlign":"left","titleBaseline":"top","titleFontSize":26,"titleAngle":0,"titleColor":"#000000"}},
    "x2":{"field":"hi"},
    "y":{"field":"y0","type":"quantitative","scale":{"domain":[0.5,4.5],"nice":false,"zero":false},
         "axis":{"values":[1,2,3,4],"format":"d","grid":true,"labelPadding":9,"title":"DEL: Edgewise BM (kNm)","titlePadding":1}},
    "y2":{"field":"y1"},
    "color":{"field":"s","type":"nominal","scale":{"domain":["Stiff","Flexible"],"range":["#0000ff","#1ab200"]},
             "legend":{"title":null,"orient":"none","legendX":5,"legendY":6,"direction":"horizontal"}},
    "stroke":{"field":"s","type":"nominal","scale":{"domain":["Stiff","Flexible"],"range":["#0000ff","#1ab200"]},"legend":null}
   }},
  {"data":{"name":"med"},
   "transform":[{"filter":"datum.p==='C'"},{"calculate":"datum.s==='Stiff'?datum.c-datum.w:datum.c","as":"lo"},{"calculate":"datum.s==='Stiff'?datum.c:datum.c+datum.w","as":"hi"}],
   "mark":{"type":"rule","color":"#ff0000","strokeWidth":2.5},
   "encoding":{"x":{"field":"lo","type":"quantitative"},"x2":{"field":"hi"},"y":{"field":"y","type":"quantitative"}}},
  {"data":{"values":[{}]},
   "mark":{"type":"text","align":"left","baseline":"alphabetic","fontSize":20,"dx":1,"dy":-6,"color":"#262626"},
   "encoding":{"x":{"datum":0},"y":{"datum":4.5},"text":{"value":"×10"}}},
  {"data":{"values":[{}]},
   "mark":{"type":"text","align":"left","baseline":"alphabetic","fontSize":15,"dx":43,"dy":-17,"color":"#262626"},
   "encoding":{"x":{"datum":0},"y":{"datum":4.5},"text":{"value":"6"}}}
 ]
},
{
 "width":475,"height":304,
 "layer":[
  {"data":{"name":"hist"},
   "transform":[{"filter":"datum.p==='D'"},{"calculate":"datum.s==='Stiff'?datum.c-datum.w:datum.c","as":"lo"},{"calculate":"datum.s==='Stiff'?datum.c:datum.c+datum.w","as":"hi"}],
   "mark":{"type":"rect","strokeWidth":0.7},
   "encoding":{
    "x":{"field":"lo","type":"quantitative","scale":{"domain":[0,3.934],"nice":false,"zero":false},
         "axis":{"values":[1,2,3],"labelExpr":"datum.value==1?'Flex5':datum.value==2?'AD':'AL'","grid":true,"labelPadding":12,"title":"D)","titleX":-62,"titleY":3,"titleAlign":"left","titleBaseline":"top","titleFontSize":26,"titleAngle":0,"titleColor":"#000000"}},
    "x2":{"field":"hi"},
    "y":{"field":"y0","type":"quantitative","scale":{"domain":[0.5,4.5],"nice":false,"zero":false},
         "axis":{"values":[1,2,3,4],"format":"d","grid":true,"labelPadding":9,"title":"DEL: Edgewise BM (kNm)","titlePadding":1}},
    "y2":{"field":"y1"},
    "color":{"field":"s","type":"nominal","scale":{"domain":["Stiff","Flexible"],"range":["#0000ff","#1ab200"]},
             "legend":{"title":null,"orient":"none","legendX":260,"legendY":268,"direction":"horizontal"}},
    "stroke":{"field":"s","type":"nominal","scale":{"domain":["Stiff","Flexible"],"range":["#0000ff","#1ab200"]},"legend":null}
   }},
  {"data":{"name":"med"},
   "transform":[{"filter":"datum.p==='D'"},{"calculate":"datum.s==='Stiff'?datum.c-datum.w:datum.c","as":"lo"},{"calculate":"datum.s==='Stiff'?datum.c:datum.c+datum.w","as":"hi"}],
   "mark":{"type":"rule","color":"#ff0000","strokeWidth":2.5},
   "encoding":{"x":{"field":"lo","type":"quantitative"},"x2":{"field":"hi"},"y":{"field":"y","type":"quantitative"}}},
  {"data":{"values":[{}]},
   "mark":{"type":"text","align":"left","baseline":"alphabetic","fontSize":20,"dx":1,"dy":-6,"color":"#262626"},
   "encoding":{"x":{"datum":0},"y":{"datum":4.5},"text":{"value":"×10"}}},
  {"data":{"values":[{}]},
   "mark":{"type":"text","align":"left","baseline":"alphabetic","fontSize":15,"dx":43,"dy":-17,"color":"#262626"},
   "encoding":{"x":{"datum":0},"y":{"datum":4.5},"text":{"value":"6"}}},
  {"data":{"values":[{}]},
   "mark":{"type":"rule","color":"#8c8c8c","strokeDash":[4,3],"strokeWidth":1},
   "encoding":{"x":{"datum":-0.576},"y":{"datum":4.96},"y2":{"datum":0.08}}}
 ]
}
]
}
